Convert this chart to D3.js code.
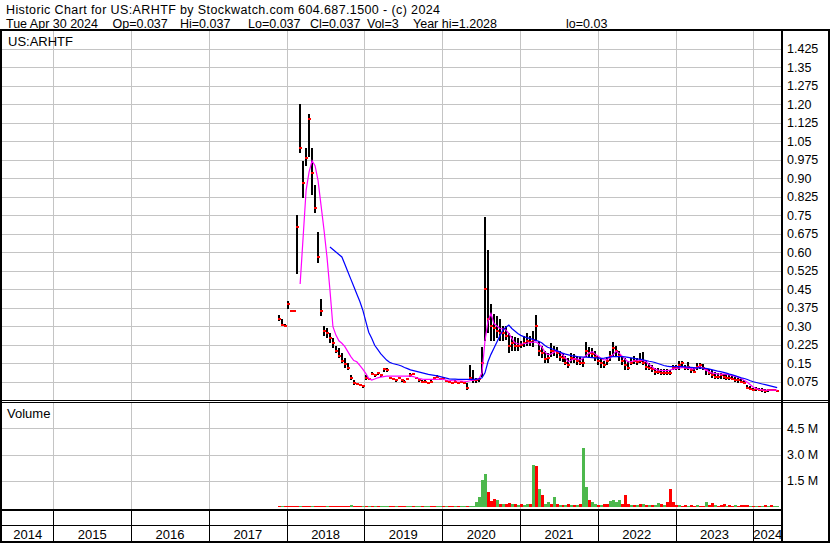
<!DOCTYPE html>
<html><head><meta charset="utf-8">
<script src="https://cdn.jsdelivr.net/npm/d3@7"></script>
<style>
body{margin:0;background:#fff;}
svg{display:block;font-family:"Liberation Sans",Arial,sans-serif;}
</style></head><body>
<svg id="c" width="830" height="543"></svg>
<script>
// ---------------- DATA ----------------
const titleLine1 = "Historic Chart for US:ARHTF by Stockwatch.com 604.687.1500 - (c) 2024";
const titleLine2Fields = ["Tue Apr 30 2024","Op=0.037","Hi=0.037","Lo=0.037","Cl=0.037","Vol=3","Year hi=1.2028","lo=0.03"];
const symbolLabel = "US:ARHTF";
const volumeLabel = "Volume";
const years = [2014,2015,2016,2017,2018,2019,2020,2021,2022,2023,2024];
const priceTicks = [0.075,0.15,0.225,0.30,0.375,0.45,0.525,0.60,0.675,0.75,0.825,0.90,0.975,1.05,1.125,1.20,1.275,1.35,1.425];
const priceTickLabels = ["0.075","0.15","0.225","0.30","0.375","0.45","0.525","0.60","0.675","0.75","0.825","0.90","0.975","1.05","1.125","1.20","1.275","1.35","1.425"];
const volTicks = [1.5e6,3.0e6,4.5e6];
const volTickLabels = ["1.5 M","3.0 M","4.5 M"];

// bi-weekly sampled series (first session 2017-11-27, every 14 days)
const firstDate = "2017-11-27";
const stepDays = 14;
const closes = [
.33,.305,.30,.39,.36,.36,.70,1.02,.88,.98,
1.14,.92,.78,.58,.36,.28,.27,.25,.23,.20,
.18,.16,.145,.13,.09,.07,.065,.06,.055,.09,
.085,.105,.10,.11,.10,.125,.12,.09,.085,.08,
.09,.08,.075,.085,.10,.105,.09,.08,.075,.075,
.07,.075,.09,.095,.085,.09,.078,.072,.07,.075,
.07,.072,.07,.05,.09,.08,.08,.085,.15,.45,
.33,.30,.29,.28,.27,.27,.26,.22,.23,.22,
.22,.225,.23,.24,.235,.245,.30,.20,.19,.165,
.17,.20,.20,.19,.175,.17,.15,.14,.17,.165,
.16,.15,.15,.20,.19,.185,.175,.16,.15,.14,
.16,.18,.21,.20,.18,.16,.14,.13,.15,.16,
.155,.16,.15,.135,.13,.125,.115,.115,.11,.11,
.11,.11,.13,.13,.14,.15,.13,.135,.12,.115,
.135,.14,.13,.12,.11,.10,.095,.095,.10,.095,
.09,.09,.085,.08,.08,.075,.07,.05,.045,.04,
.045,.04,.04,.038,.04,.04,.04,.037];
const highs = [
.345,.33,.31,.40,.36,.36,.75,1.20,.97,1.02,
1.16,1.02,.87,.68,.41,.30,.29,.27,.25,.22,
.21,.19,.17,.15,.10,.08,.07,.065,.06,.10,
.09,.115,.105,.115,.105,.13,.13,.095,.09,.085,
.095,.085,.08,.09,.11,.11,.095,.085,.08,.08,
.075,.08,.095,.10,.09,.095,.082,.076,.074,.08,
.074,.076,.074,.07,.14,.12,.09,.09,.215,.74,
.61,.39,.35,.34,.33,.30,.30,.27,.26,.255,
.25,.24,.26,.27,.26,.28,.345,.24,.22,.20,
.19,.23,.22,.215,.20,.19,.18,.17,.19,.185,
.18,.175,.17,.235,.215,.21,.20,.18,.17,.16,
.175,.20,.235,.22,.20,.18,.17,.16,.17,.18,
.17,.19,.196,.16,.15,.14,.13,.13,.125,.125,
.125,.12,.14,.14,.16,.16,.14,.155,.13,.13,
.15,.15,.145,.13,.125,.12,.113,.11,.11,.105,
.105,.10,.10,.093,.09,.085,.08,.06,.055,.05,
.053,.05,.048,.045,.045,.045,.045,.04];
const lows = [
.32,.30,.30,.37,.36,.36,.51,1.00,.82,.95,
.985,.83,.76,.555,.34,.26,.25,.23,.21,.19,
.17,.15,.13,.12,.08,.06,.06,.055,.05,.08,
.08,.10,.095,.10,.095,.115,.115,.085,.08,.075,
.085,.075,.07,.08,.095,.10,.085,.075,.07,.07,
.065,.07,.085,.09,.08,.085,.074,.068,.066,.07,
.066,.068,.066,.04,.08,.07,.07,.075,.093,.24,
.27,.24,.24,.25,.24,.24,.245,.19,.20,.20,
.20,.21,.215,.22,.22,.215,.24,.18,.17,.15,
.15,.175,.18,.17,.16,.155,.14,.13,.15,.15,
.14,.14,.135,.175,.17,.17,.16,.14,.13,.13,
.14,.16,.18,.18,.16,.14,.12,.12,.14,.145,
.14,.15,.14,.12,.12,.115,.10,.105,.10,.10,
.10,.10,.12,.12,.12,.13,.12,.12,.11,.11,
.12,.125,.12,.10,.10,.09,.085,.085,.085,.085,
.08,.08,.08,.075,.07,.068,.065,.045,.04,.035,
.035,.035,.032,.03,.032,.035,.035,.035];
// short moving average (magenta)
const maShort = [
null,null,null,null,null,null,null,.47,.66,.85,
.925,.97,.95,.89,.79,.69,.58,.446,.297,.263,
.24,.23,.216,.196,.176,.16,.155,.14,.125,.108,
.088,.081,.085,.09,.093,.095,.097,.097,.097,.097,
.097,.097,.097,.097,.097,.095,.09,.087,.085,.084,
.084,.084,.084,.084,.085,.083,.081,.08,.078,.078,
.077,.077,.076,.075,.078,.08,.083,.086,.11,.24,
.32,.35,.31,.30,.29,.288,.284,.27,.25,.232,
.228,.227,.228,.23,.232,.234,.236,.228,.216,.196,
.184,.186,.192,.20,.194,.184,.17,.155,.162,.168,
.166,.162,.17,.182,.19,.196,.186,.177,.168,.162,
.165,.17,.185,.198,.19,.178,.165,.155,.156,.158,
.16,.163,.16,.155,.145,.135,.125,.121,.12,.119,
.119,.121,.125,.127,.129,.131,.131,.129,.127,.125,
.13,.135,.13,.122,.116,.11,.108,.106,.105,.105,
.105,.102,.099,.096,.092,.086,.079,.072,.062,.052,
.046,.043,.041,.04,.04,.04,.04,.04];
// long moving average (blue)
const maLong = [
null,null,null,null,null,null,null,null,null,null,
null,null,null,null,null,null,null,.62,.61,.60,
.59,.58,.55,.52,.49,.46,.43,.40,.365,.32,
.275,.25,.222,.205,.188,.175,.162,.153,.148,.145,
.142,.138,.132,.127,.122,.119,.116,.113,.11,.107,
.104,.102,.10,.098,.095,.092,.089,.086,.085,.085,
.084,.084,.084,.084,.084,.084,.085,.086,.09,.11,
.155,.185,.21,.235,.26,.283,.295,.304,.29,.28,
.27,.262,.257,.253,.25,.246,.242,.238,.232,.222,
.214,.21,.205,.20,.195,.19,.186,.183,.18,.178,
.176,.175,.174,.174,.173,.172,.171,.17,.169,.17,
.172,.175,.176,.176,.176,.176,.175,.173,.171,.169,
.167,.166,.163,.16,.157,.155,.152,.148,.144,.14,
.137,.135,.135,.135,.135,.135,.134,.133,.132,.131,
.13,.13,.129,.128,.126,.123,.12,.117,.115,.112,
.109,.105,.102,.098,.094,.09,.087,.083,.078,.074,
.071,.068,.065,.062,.059,.056,.053,.05];
// volume in millions of shares
const volumesM = [
.05,.04,.03,.04,.06,.05,.05,.06,.07,.05,
.06,.05,.06,.05,.06,.05,.05,.04,.05,.04,
.05,.04,.05,.04,.10,.05,.05,.04,.04,.05,
.04,.03,.04,.03,.04,.03,.04,.03,.03,.04,
.03,.04,.03,.03,.04,.03,.03,.03,.04,.03,
.04,.03,.04,.03,.03,.04,.03,.04,.03,.04,
.04,.03,.04,.05,.05,.05,.30,.60,1.55,1.90,
.86,.37,.45,.40,.20,.15,.20,.25,.15,.20,
.12,.15,.10,.20,.15,2.40,2.35,1.05,.66,.20,
.30,.20,.55,.15,.10,.12,.10,.15,.10,.12,
.10,.15,3.40,1.12,.38,.30,.20,.12,.10,.15,
.20,.35,.40,.30,.40,.15,.66,.20,.10,.12,
.10,.15,.20,.12,.10,.10,.12,.25,.15,.12,
.30,1.03,.26,.10,.10,.08,.10,.08,.10,.08,
.10,.08,.06,.30,.10,.25,.10,.08,.10,.15,
.08,.10,.08,.10,.08,.10,.12,.10,.08,.06,
.08,.06,.07,.12,.08,.10,.08,.07];
// g = up day (green), r = down day (red)
const volumeDirection =
"rgrrrrrgrr"+"rgrrrrgrrr"+"rrrrgrrrgr"+"grgrgggrrg"+"rrrggrggrg"+
"grrggrgrrg"+"rggrgggggg"+"rrrgrgrrgr"+"grggrgrgrg"+"grgrgrgrgr"+
"grggrggrgr"+"rggggrrrgr"+"grgrgrggrg"+"rrrrgrrgrr"+"grrgrrgrrr"+
"grrgrrrrgr"+"grgrgrgg";

// ---------------- LAYOUT ----------------
const svg = d3.select("#c");
const plotL = 2, plotR = 781, divX = 782;
const priceTop = 31, priceBot = 400;
const volTop = 403, volBot = 509;
const FONT = '"Liberation Sans",Arial,sans-serif';

const parse = d3.timeParse("%Y-%m-%d");
const t0 = parse(firstDate);
const dates = closes.map((_, i) => d3.timeDay.offset(t0, stepDays * i));

const x = d3.scaleTime()
  .domain([parse("2014-05-05"), parse("2024-05-10")])
  .range([plotL, plotR]);
const y = d3.scaleLinear().domain([0, 1.5]).range([400, 30]);
const yv = d3.scaleLinear().domain([0, 6e6]).range([507, 402]);

const yearStarts = years.slice(1).map(yr => new Date(yr, 0, 1));

// ---------------- GRID + AXES ----------------
const gridColor = "#c4c4c4";

const pAxis = d3.axisRight(y)
  .tickValues(priceTicks)
  .tickFormat((d, i) => priceTickLabels[i])
  .tickSizeInner(-(divX - plotL))
  .tickSizeOuter(0)
  .tickPadding(5);
const pg = svg.append("g").attr("transform", `translate(${divX},0)`).call(pAxis);
pg.select(".domain").remove();
pg.selectAll(".tick line").attr("stroke", gridColor).attr("shape-rendering", "crispEdges");
pg.selectAll(".tick text").attr("fill", "#000").attr("font-size", "12.5px").attr("font-family", FONT);

const vAxis = d3.axisRight(yv)
  .tickValues(volTicks)
  .tickFormat((d, i) => volTickLabels[i])
  .tickSizeInner(-(divX - plotL))
  .tickSizeOuter(0)
  .tickPadding(5);
const vg = svg.append("g").attr("transform", `translate(${divX},0)`).call(vAxis);
vg.select(".domain").remove();
vg.selectAll(".tick line").attr("stroke", gridColor).attr("shape-rendering", "crispEdges");
vg.selectAll(".tick text").attr("fill", "#000").attr("font-size", "12.5px").attr("font-family", FONT);

const vgrid = svg.append("g").attr("stroke", gridColor).attr("shape-rendering", "crispEdges");
yearStarts.forEach(d => {
  const xx = Math.round(x(d)) + 0.5;
  vgrid.append("line").attr("x1", xx).attr("x2", xx).attr("y1", priceTop).attr("y2", priceBot);
  vgrid.append("line").attr("x1", xx).attr("x2", xx).attr("y1", volTop).attr("y2", volBot);
});

// ---------------- VOLUME BARS ----------------
svg.append("g").selectAll("rect").data(volumesM).join("rect")
  .attr("x", (d, i) => Math.round(x(dates[i])) - 1)
  .attr("width", 3)
  .attr("y", d => Math.min(yv(d * 1e6), yv(0) - 1))
  .attr("height", d => Math.max(1, yv(0) - yv(d * 1e6)))
  .attr("fill", (d, i) => volumeDirection[i] === "g" ? "#4db84d" : "#ff0000")
  .attr("shape-rendering", "crispEdges");

// ---------------- PRICE BARS ----------------
const bars = svg.append("g").attr("shape-rendering", "crispEdges");
bars.selectAll("rect").data(closes).join("rect")
  .attr("x", (d, i) => Math.round(x(dates[i])) - 1)
  .attr("width", 2)
  .attr("y", (d, i) => y(highs[i]))
  .attr("height", (d, i) => Math.max(1, y(lows[i]) - y(highs[i])))
  .attr("fill", "#000");

const closeMarks = svg.append("g").attr("shape-rendering", "crispEdges");
closeMarks.selectAll("rect").data(closes).join("rect")
  .attr("x", (d, i) => Math.round(x(dates[i])) - 1)
  .attr("width", 3)
  .attr("y", d => Math.round(y(d)) - 1)
  .attr("height", 2)
  .attr("fill", "#ff0000");

// ---------------- MOVING AVERAGES ----------------
const line = d3.line()
  .defined(d => d.v != null)
  .x(d => x(d.t))
  .y(d => y(d.v));
svg.append("path")
  .attr("d", line(maShort.map((v, i) => ({t: dates[i], v}))))
  .attr("fill", "none").attr("stroke", "#ff00ff").attr("stroke-width", 1.2);
svg.append("path")
  .attr("d", line(maLong.map((v, i) => ({t: dates[i], v}))))
  .attr("fill", "none").attr("stroke", "#0000ff").attr("stroke-width", 1.2);

// ---------------- FRAME ----------------
const frame = svg.append("g").attr("fill", "#000").attr("shape-rendering", "crispEdges");
frame.append("rect").attr("x", 0).attr("y", 29).attr("width", 830).attr("height", 2);
frame.append("rect").attr("x", 0).attr("y", 29).attr("width", 2).attr("height", 514);
frame.append("rect").attr("x", 828).attr("y", 29).attr("width", 2).attr("height", 514);
frame.append("rect").attr("x", 0).attr("y", 541).attr("width", 830).attr("height", 2);
frame.append("rect").attr("x", 781).attr("y", 29).attr("width", 2).attr("height", 514);
frame.append("rect").attr("x", 0).attr("y", 400).attr("width", 830).attr("height", 1);
frame.append("rect").attr("x", 0).attr("y", 402).attr("width", 830).attr("height", 1);
frame.append("rect").attr("x", 0).attr("y", 509).attr("width", 782).attr("height", 2);
frame.append("rect").attr("x", 0).attr("y", 525).attr("width", 782).attr("height", 1);

const sep = svg.append("g").attr("stroke", "#000").attr("shape-rendering", "crispEdges");
yearStarts.forEach(d => {
  const xx = Math.round(x(d)) + 0.5;
  sep.append("line").attr("x1", xx).attr("x2", xx).attr("y1", 511).attr("y2", 541);
});
const bounds = [plotL, ...yearStarts.map(d => x(d)), divX];
svg.append("g").selectAll("text").data(years).join("text")
  .attr("x", (d, i) => (bounds[i] + bounds[i + 1]) / 2)
  .attr("y", 538.5)
  .attr("text-anchor", "middle")
  .attr("font-size", "13px")
  .text(d => d);

// ---------------- TEXT ----------------
svg.append("text").attr("x", 6).attr("y", 13.5).attr("font-size", "12.5px")
  .attr("textLength", 434).attr("lengthAdjust", "spacing").text(titleLine1);
const line2X = [6, 112.5, 180, 248, 310, 367, 413, 566];
svg.append("g").selectAll("text").data(titleLine2Fields).join("text")
  .attr("x", (d, i) => line2X[i]).attr("y", 27.5).attr("font-size", "12.5px")
  .text(d => d);
svg.append("text").attr("x", 8).attr("y", 46).attr("font-size", "13px").text(symbolLabel);
svg.append("text").attr("x", 7).attr("y", 418).attr("font-size", "13px").text(volumeLabel);
</script>
</body></html>
